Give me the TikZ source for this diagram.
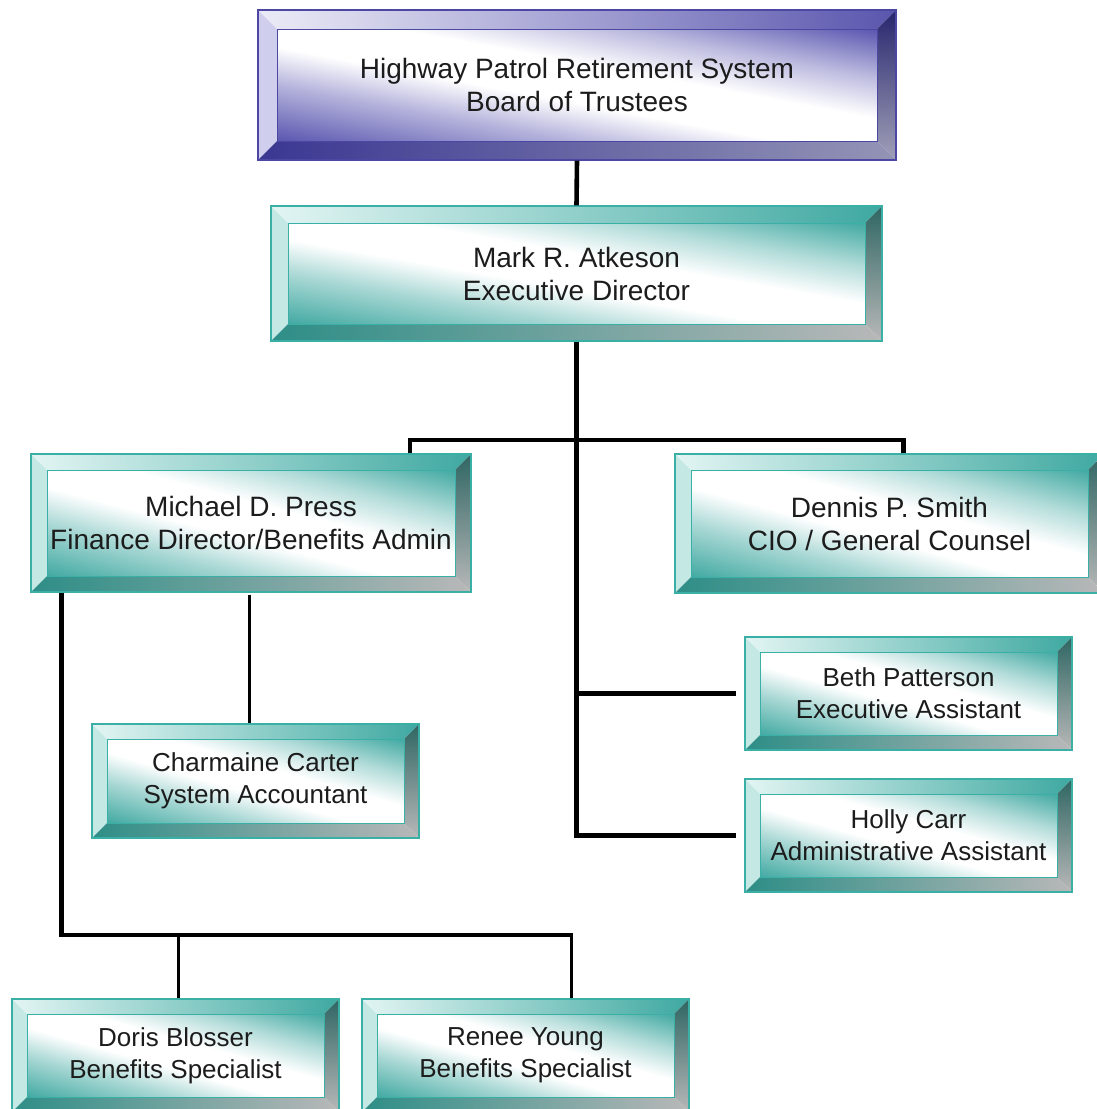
\documentclass[tikz,border=0pt]{standalone}
\usepackage{fontspec}
\setmainfont{Liberation Sans}
\usetikzlibrary{calc}
% teal palette
\definecolor{Tedge}{HTML}{3AAFA6}
\definecolor{Tin}{HTML}{42A9A2}
\definecolor{Ttl}{HTML}{E2F5F3}
\definecolor{Ttr}{HTML}{3FA9A1}
\definecolor{Tlf}{HTML}{C4E9E5}
\definecolor{Trt}{HTML}{2F6663}
\definecolor{Trb}{HTML}{B8B8B8}
\definecolor{Tbl}{HTML}{2E8E87}
\definecolor{Tbr}{HTML}{B8B8B8}
% blue palette
\definecolor{Bedge}{HTML}{4B47A3}
\definecolor{Bin}{HTML}{5A56B0}
\definecolor{Btl}{HTML}{ECECF7}
\definecolor{Btr}{HTML}{5A56AE}
\definecolor{Blf}{HTML}{CFCEEC}
\definecolor{Brt}{HTML}{28266E}
\definecolor{Brb}{HTML}{A0A0B8}
\definecolor{Bbl}{HTML}{3A3792}
\definecolor{Bbr}{HTML}{9494B6}
\definecolor{textc}{HTML}{1C1C1C}
\pgfdeclareverticalshading{Tinner}{100bp}{color(0bp)=(Tin); color(25bp)=(Tin!45!white);
  color(42bp)=(white); color(60bp)=(white); color(78bp)=(Tin!40!white); color(100bp)=(Tin)}
\pgfdeclareverticalshading{Binner}{100bp}{color(0bp)=(Bin); color(25bp)=(Bin!45!white);
  color(42bp)=(white); color(60bp)=(white); color(78bp)=(Bin!40!white); color(100bp)=(Bin)}
\newdimen\bvdx \newdimen\bvdy
\newcommand\bevelfaces[2]{%
  \coordinate (bvA) at (path picture bounding box.north west);
  \coordinate (bvB) at (path picture bounding box.north east);
  \coordinate (bvC) at (path picture bounding box.south east);
  \coordinate (bvD) at (path picture bounding box.south west);
  \coordinate (bva) at ($(bvA)+(#1pt,-#1pt)$);
  \coordinate (bvb) at ($(bvB)+(-#1pt,-#1pt)$);
  \coordinate (bvc) at ($(bvC)+(-#1pt,#1pt)$);
  \coordinate (bvd) at ($(bvD)+(#1pt,#1pt)$);
  \pgfextractx{\bvdx}{\pgfpointdiff{\pgfpointanchor{bva}{center}}{\pgfpointanchor{bvc}{center}}}%
  \pgfextracty{\bvdy}{\pgfpointdiff{\pgfpointanchor{bva}{center}}{\pgfpointanchor{bvc}{center}}}%
  \pgfmathsetmacro\bvsx{abs(\bvdx)/100.375}%
  \pgfmathsetmacro\bvsy{abs(\bvdy)/100.375}%
  {\pgfscope
    \pgfpathrectanglecorners{\pgfpointanchor{bva}{center}}{\pgfpointanchor{bvc}{center}}%
    \pgfusepath{clip}%
    \pgftransformshift{\pgfpointlineattime{0.5}{\pgfpointanchor{bva}{center}}{\pgfpointanchor{bvc}{center}}}%
    \pgftransformcm{\bvsx}{-\bvsy}{\bvsx}{\bvsy}{\pgfpointorigin}%
    \pgflowlevelsynccm
    \pgfuseshading{#2inner}%
  \endpgfscope}%
  \shade[left color=#2tl, right color=#2tr] (bvA) -- (bvB) -- (bvb) -- (bva) -- cycle;
  \fill[#2lf] (bvA) -- (bva) -- (bvd) -- (bvD) -- cycle;
  \shade[top color=#2rt, bottom color=#2rb] (bvB) -- (bvC) -- (bvc) -- (bvb) -- cycle;
  \shade[left color=#2bl, right color=#2br] (bvD) -- (bvC) -- (bvc) -- (bvd) -- cycle;
  \draw[#2edge, line width=0.8pt] (bva) rectangle (bvc);
}
\tikzset{
  box/.style={rectangle, inner sep=0pt, align=center, text=textc,
    font=\fontsize{28pt}{33pt}\selectfont, line width=1.2pt},
  smalltext/.style={font=\fontsize{26pt}{32pt}\selectfont},
  tealbox/.style={box, draw=Tedge, path picture={\bevelfaces{#1}{T}}},
  tealbox/.default=15,
  bluebox/.style={box, draw=Bedge, path picture={\bevelfaces{#1}{B}}},
  bluebox/.default=19,
  conn/.style={draw=black, line width=4.6pt},
  connthin/.style={draw=black, line width=3pt},
  connmid/.style={draw=black, line width=3.6pt},
}
\begin{document}
\begin{tikzpicture}[x=1pt,y=-1pt]
\useasboundingbox (0,0) rectangle (1097,1109);
\fill[white] (0,0) rectangle (1097,1109);
\clip (0,0) rectangle (1097,1109);

\node[bluebox, minimum width=638pt, minimum height=150pt] (board) at (577,85)
  {Highway Patrol Retirement System\\Board of Trustees};
\node[tealbox=17, minimum width=611pt, minimum height=135pt] (mark) at (576.5,273.5)
  {Mark R. Atkeson\\Executive Director};
\node[tealbox=16, minimum width=440pt, minimum height=138pt] (michael) at (251,523)
  {Michael D. Press\\Finance Director/Benefits Admin};
\node[tealbox=16, minimum width=429pt, minimum height=139pt] (dennis) at (889.5,523.5)
  {Dennis P. Smith\\CIO / General Counsel};
\node[tealbox, smalltext, minimum width=327pt, minimum height=113pt] (beth) at (908.5,693.5)
  {Beth Patterson\\Executive Assistant};
\node[tealbox, smalltext, minimum width=327pt, minimum height=113pt] (holly) at (908.5,835.5)
  {Holly Carr\\Administrative Assistant};
\node[tealbox, smalltext, minimum width=327pt, minimum height=114pt] (charm) at (255.5,781)
  {Charmaine Carter\\System Accountant};
\node[tealbox, smalltext, minimum width=327pt, minimum height=113pt] (doris) at (175.5,1055.5)
  {Doris Blosser\\Benefits Specialist};
\node[tealbox, smalltext, minimum width=327pt, minimum height=113pt] (renee) at (525.5,1055.5)
  {Renee Young\\Benefits Specialist};

\coordinate (bus) at (577,440);
\coordinate (bus2) at (573,935);

\draw[conn] (board.south) -- (mark.north);
\draw[conn] (mark.south) -- (mark.south |- holly.west) -- ([xshift=-8pt]holly.west);
\draw[conn] (mark.south |- beth.west) -- ([xshift=-8pt]beth.west);
\draw[conn] ([xshift=159pt]michael.north) |- (bus) -| ([xshift=14pt]dennis.north);
\draw[connthin] ([xshift=-2pt,yshift=-2pt]michael.south) -- ([xshift=-2pt]michael.south |- charm.north);
\draw[conn] ([xshift=31pt]michael.south west) |- (bus2);
\draw[connmid] ([xshift=3pt]doris.north) -- ([xshift=3pt]doris.north |- bus2);
\draw[connmid] ([xshift=46pt]renee.north) -- ([xshift=46pt]renee.north |- bus2);
\end{tikzpicture}
\end{document}
